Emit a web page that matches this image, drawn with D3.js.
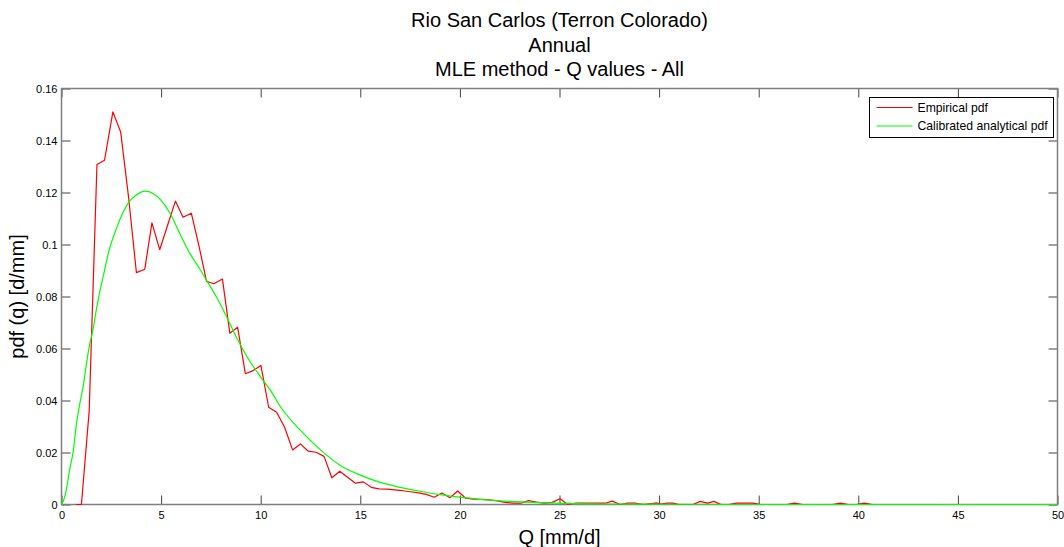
<!DOCTYPE html>
<html><head><meta charset="utf-8">
<script src="https://cdn.jsdelivr.net/npm/d3@7"></script>
<style>
html,body{margin:0;padding:0;background:#fff;}
svg{display:block;font-family:"Liberation Sans",Arial,sans-serif;}
</style></head>
<body>
<svg id="chart" width="1064" height="547"></svg>
<script>
// ---- data ----
const titleLines = ["Rio San Carlos (Terron Colorado)", "Annual", "MLE method - Q values - All"];
const xLabel = "Q [mm/d]";
const yLabel = "pdf (q) [d/mm]";
const seriesNames = ["Empirical pdf", "Calibrated analytical pdf"];

const xTicks = [0, 5, 10, 15, 20, 25, 30, 35, 40, 45, 50];
const yTicks = [0, 0.02, 0.04, 0.06, 0.08, 0.1, 0.12, 0.14, 0.16];
const yTickLabels = ["0", "0.02", "0.04", "0.06", "0.08", "0.1", "0.12", "0.14", "0.16"];

// Empirical pdf (red)
const qEmp = [0.72, 1.0, 1.39, 1.78, 2.16, 2.58, 2.97, 3.37, 3.76, 4.18, 4.54, 4.93, 5.33, 5.72, 6.1, 6.52, 6.9, 7.28, 7.65, 8.08,
  8.45, 8.84, 9.23, 9.62, 10.01, 10.4, 10.8, 11.2, 11.6, 11.99, 12.39, 12.78, 13.18, 13.57, 13.97, 14.36, 14.76, 15.15, 15.55, 15.94,
  16.34, 16.73, 17.13, 17.52, 17.92, 18.31, 18.71, 19.1, 19.5, 19.89, 20.29, 20.68, 21.08, 21.47, 21.87, 22.26, 22.66, 23.05, 23.45, 23.84,
  24.24, 24.63, 25.03, 25.42, 25.82, 26.21, 26.61, 27.0, 27.3, 27.65, 28.05, 28.4, 28.8, 29.2, 29.6, 29.85, 30.1, 30.4, 30.7, 31.0,
  31.7, 32.06, 32.43, 32.76, 33.1, 33.5, 33.9, 34.3, 34.7, 35.1, 36.4, 36.8, 37.2, 38.7, 39.1, 39.5, 39.9, 40.3, 40.7, 50];
const pdfEmp = [0, 0, 0.036, 0.1308, 0.1324, 0.151, 0.1433, 0.118, 0.0892, 0.0905, 0.1083, 0.098, 0.1075, 0.1167, 0.1105, 0.112, 0.0995, 0.0858, 0.0849, 0.0867,
  0.0659, 0.0682, 0.0503, 0.0515, 0.0535, 0.0374, 0.0355, 0.0297, 0.021, 0.0233, 0.0205, 0.0201, 0.0185, 0.0103, 0.0128, 0.0105, 0.0082, 0.0087, 0.0066, 0.006,
  0.0059, 0.0056, 0.0053, 0.0049, 0.0045, 0.0039, 0.0028, 0.0044, 0.0026, 0.0052, 0.0024, 0.0021, 0.002, 0.0018, 0.0014, 0.0008, 0.0005, 0.0005, 0.0015, 0.0009,
  0.0005, 0.0008, 0.0022, 0, 0.0005, 0.0005, 0.0005, 0.0005, 0.0005, 0.0013, 0, 0.0005, 0.0005, 0, 0.0003, 0.0006, 0.0002, 0.0005, 0.0005, 0,
  0, 0.0012, 0.0005, 0.0012, 0, 0, 0.0005, 0.0005, 0.0005, 0, 0, 0.0005, 0, 0, 0.0005, 0, 0, 0.0005, 0, 0];

// Calibrated analytical pdf (green)
const qFit = [0, 0.1, 0.25, 0.4, 0.6, 0.75, 0.9, 1.1, 1.25, 1.4, 1.6, 1.75, 1.9, 2.1, 2.4, 2.75, 3.1, 3.4, 3.75, 4.2,
  4.6, 5.0, 5.45, 5.95, 6.45, 6.95, 7.3, 7.8, 8.3, 8.8, 9.3, 10, 10.5, 11, 12, 13, 14, 15, 16, 17,
  18, 19, 20, 21, 22, 23, 24, 25, 27, 30, 35, 40, 50];
const pdfFit = [0, 0.0015, 0.006, 0.013, 0.021, 0.031, 0.038, 0.046, 0.054, 0.061, 0.068, 0.075, 0.081, 0.088, 0.098, 0.106, 0.1125, 0.1165, 0.119, 0.1205,
  0.1196, 0.117, 0.112, 0.104, 0.0965, 0.0905, 0.086, 0.0795, 0.072, 0.064, 0.057, 0.049, 0.0438, 0.0375, 0.0285, 0.021, 0.015, 0.0113, 0.0085, 0.0066,
  0.0051, 0.0038, 0.0028, 0.002, 0.0014, 0.001, 0.0007, 0.0005, 0.0002, 0.0001, 0, 0, 0];

const colors = ["#ff0000", "#00ff00"];

// ---- drawing ----
const svg = d3.select("#chart");
const plot = {left: 61.5, right: 1057.5, top: 88.5, bottom: 504.5};

const x = d3.scaleLinear().domain([0, 50]).range([plot.left, plot.right]);
const y = d3.scaleLinear().domain([0, 0.16]).range([plot.bottom, plot.top]);

svg.append("rect").attr("width", 1064).attr("height", 547).attr("fill", "#fff");

// titles
svg.append("g").selectAll("text").data(titleLines).join("text")
  .attr("x", (plot.left + plot.right) / 2)
  .attr("y", (d, i) => 27 + i * 24.5)
  .attr("text-anchor", "middle")
  .attr("font-size", 20)
  .attr("fill", "#000")
  .text(d => d);

const tickLen = 9;
const axisColor = "#7f7f7f";

// axes with d3 axis generators (inner ticks)
const xAxisB = d3.axisBottom(x).tickValues(xTicks).tickSizeInner(-tickLen).tickSizeOuter(0).tickPadding(7).tickFormat(d3.format("d"));
const xAxisT = d3.axisTop(x).tickValues(xTicks).tickSizeInner(-tickLen).tickSizeOuter(0).tickFormat("");
const yAxisL = d3.axisLeft(y).tickValues(yTicks).tickSizeInner(-tickLen).tickSizeOuter(0).tickPadding(4).tickFormat((d, i) => yTickLabels[i]);
const yAxisR = d3.axisRight(y).tickValues(yTicks).tickSizeInner(-tickLen).tickSizeOuter(0).tickFormat("");

function styleAxis(g) {
  g.select(".domain").remove();
  g.selectAll(".tick line").attr("stroke", "#444").attr("stroke-width", 1);
  g.selectAll(".tick text").attr("font-size", 11).attr("fill", "#000").attr("font-family", "Liberation Sans, Arial, sans-serif");
}
svg.append("g").attr("transform", `translate(0,${plot.bottom})`).call(xAxisB).call(styleAxis);
svg.append("g").attr("transform", `translate(0,${plot.top})`).call(xAxisT).call(styleAxis);
svg.append("g").attr("transform", `translate(${plot.left},0)`).call(yAxisL).call(styleAxis);
svg.append("g").attr("transform", `translate(${plot.right},0)`).call(yAxisR).call(styleAxis);

// box
svg.append("rect").attr("x", plot.left).attr("y", plot.top)
  .attr("width", plot.right - plot.left).attr("height", plot.bottom - plot.top)
  .attr("fill", "none").attr("stroke", axisColor).attr("stroke-width", 1.5);

// lines
const empData = qEmp.map((q, i) => [q, pdfEmp[i]]);
const fitData = qFit.map((q, i) => [q, pdfFit[i]]);

svg.append("path").datum(empData)
  .attr("fill", "none").attr("stroke", colors[0]).attr("stroke-width", 1.2).attr("stroke-linejoin", "round")
  .attr("d", d3.line().x(d => x(d[0])).y(d => y(d[1])));
svg.append("path").datum(fitData)
  .attr("fill", "none").attr("stroke", colors[1]).attr("stroke-width", 1.2)
  .attr("d", d3.line().curve(d3.curveMonotoneX).x(d => x(d[0])).y(d => y(d[1])));

// axis labels
svg.append("text").attr("x", (plot.left + plot.right) / 2).attr("y", 544)
  .attr("text-anchor", "middle").attr("font-size", 20).attr("fill", "#000").text(xLabel);
svg.append("text").attr("transform", `translate(24,${(plot.top + plot.bottom) / 2}) rotate(-90)`)
  .attr("text-anchor", "middle").attr("font-size", 20).attr("fill", "#000").text(yLabel);

// legend
const lg = svg.append("g").attr("transform", "translate(869.5,97.5)");
lg.append("rect").attr("width", 184).attr("height", 40).attr("fill", "#fff").attr("stroke", "#000").attr("stroke-width", 1);
const items = lg.selectAll("g.item").data(seriesNames).join("g").attr("class", "item")
  .attr("transform", (d, i) => `translate(0,${10 + i * 18.5})`);
items.append("line").attr("x1", 7).attr("x2", 43).attr("y1", 0).attr("y2", 0)
  .attr("stroke", (d, i) => colors[i]).attr("stroke-width", 1.2);
items.append("text").attr("x", 48).attr("y", 4).attr("font-size", 12.2).attr("fill", "#000").text(d => d);
</script>
</body></html>
